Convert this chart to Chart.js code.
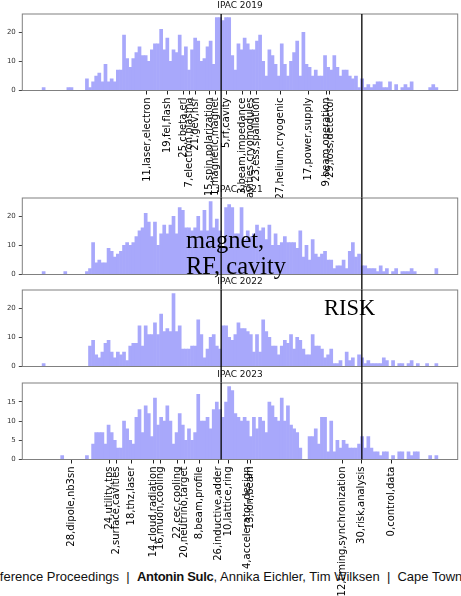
<!DOCTYPE html>
<html>
<head>
<meta charset="utf-8">
<script src="https://cdn.jsdelivr.net/npm/chart.js@4.4.1/dist/chart.umd.min.js"></script>
<style>
  body { margin: 0; background: #fff; width: 461px; height: 596px; overflow: hidden; position: relative; }
  canvas { position: absolute; left: 0; }
  .note { position: absolute; font-family: 'Liberation Serif', 'Times New Roman', serif; color: #000; white-space: pre; }
  #footer { position: absolute; top: 570px; left: -24px; font-family: 'Liberation Sans', Arial, sans-serif; font-size: 13px; line-height: 14px; color: #111; white-space: pre; }
  #footer b { letter-spacing: -0.3px; }
</style>
</head>
<body>
<div id="footer">Conference Proceedings  |  <b>Antonin Sulc</b>, Annika Eichler, Tim Wilksen  |  Cape Town</div>
<canvas id="c2019" width="461" height="198" style="top:0px"></canvas>
<canvas id="c2021" width="461" height="106" style="top:184px"></canvas>
<canvas id="c2022" width="461" height="107" style="top:276px"></canvas>
<canvas id="c2023" width="461" height="227" style="top:369px"></canvas>
<div class="note" style="left:186px; top:227px; font-size:24.5px; line-height:26px;">magnet,
RF, cavity</div>
<div class="note" style="left:324px; top:297px; font-size:22.5px; line-height:22.5px;">RISK</div>
<script>
// paper counts per bin (128 bins), one array per conference
const counts2019 = [
  1,0,0,0,0,0,0,0,1,1,0,0,0,0,
  4,1,3,5,6,3,9,3,4,3,
  7,7,19,11,8,11,13,15,12,12,
  10,14,16,16,21,14,18,10,14,13,
  19,12,15,7,14,18,17,10,11,15,
  17,9,25,25,24,25,25,12,7,16,
  14,18,16,14,14,17,19,10,5,14,
  12,9,5,16,9,5,10,13,17,5,
  20,9,8,5,7,5,5,12,8,7,
  12,8,5,7,7,5,4,5,1,4,
  1,2,1,2,3,3,1,1,3,0,
  2,0,1,2,1,3,0,0,0,0,
  0,1,2,1
];
const counts2021 = [
  1,0,0,0,0,0,0,1,0,0,0,0,0,0,
  1,2,11,4,5,4,4,9,8,6,
  7,8,10,11,10,11,13,15,16,21,
  18,13,18,10,14,17,14,17,20,14,
  23,22,16,16,15,16,20,15,22,15,
  25,16,19,15,9,23,24,23,14,14,
  23,12,15,13,14,17,15,16,12,17,
  10,14,10,11,13,11,11,11,9,15,
  6,10,5,12,7,6,7,8,5,5,
  2,3,3,5,2,8,11,6,7,3,
  3,2,2,2,1,3,1,2,0,1,
  2,0,1,1,1,2,1,0,0,0,
  0,0,0,2
];
const counts2022 = [
  1,0,0,0,0,0,0,0,0,0,0,0,0,0,0,
  7,9,4,3,5,8,9,5,3,5,
  4,5,2,7,8,8,14,7,14,11,
  11,15,11,18,12,13,12,25,12,14,
  6,6,6,7,7,16,11,3,6,10,
  11,7,6,14,14,10,9,11,15,13,
  13,12,11,5,11,5,16,12,10,7,
  7,4,7,9,8,11,6,10,9,6,
  4,4,11,7,7,6,3,4,6,1,
  1,2,0,5,2,3,0,4,3,1,
  2,1,1,1,1,3,2,0,2,0,
  1,1,0,1,2,0,1,0,0,1,
  0,0,1
];
const counts2023 = [
  0,0,0,0,0,0,1,0,0,0,0,0,0,0,1,0,
  4,7,7,7,4,9,7,5,3,3,
  10,8,5,4,11,13,7,14,12,6,
  16,9,11,10,14,10,4,7,12,9,
  5,8,5,7,17,10,10,11,8,13,
  15,13,11,15,19,18,12,11,10,11,
  10,6,11,8,11,10,7,15,14,11,
  10,16,10,14,9,8,7,3,0,0,
  6,6,8,4,11,11,2,10,2,5,
  3,5,4,3,3,3,4,6,3,6,
  3,2,2,1,2,2,0,1,0,2,
  2,0,2,1,2,2,0,0,0,1,
  0,1
];

// topic labels under the top panel and under the bottom panel
const topTickPos = [33.9, 40.6, 45.6, 47.6, 49.7, 54.0, 56.0, 59.5, 64.7, 67.3, 69.2, 77.0, 86.2, 92.1, 93.1];
const topTickLabels = ['11,laser,electron', '19,fel,flash', '25,cbeta,erl', '7,electron,plasma', '21,gev,hsr',
  '15,spin,polarization', '1,magnetic,magnet', '5,rf,cavity', '3,beam,impedance', '6,cavities,cryomodules',
  '23,ess,spallation', '27,helium,cryogenic', '17,power,supply', '9,beam,operation', '29,loss,detector'];
const bottomTickPos = [9.4, 21.7, 24.1, 29.0, 36.0, 38.3, 43.8, 46.1, 50.9, 57.0, 60.3, 66.3, 67.3, 97.0, 103.4, 113.1];
const bottomTickLabels = ['28,dipole,nb3sn', '24,utility,tps', '2,surface,cavities', '18,thz,laser', '14,cloud,radiation',
  '16,muon,cooling', '22,cec,cooling', '20,neutrino,target', '8,beam,profile', '26,inductive,adder', '10,lattice,ring',
  '4,accelerator,design', '13,ion,beam', '12,timing,synchronization', '30,risk,analysis', '0,control,data'];

// vertical marker lines (magnet/RF cavity, risk)
const markers = [57.9, 103.4];

const xMin = -6.4, xMax = 134.4;
const barColor = '#a8a8fb';

Chart.defaults.font.family = 'DejaVu Sans';

const framePlugin = {
  id: 'frame',
  afterDraw(chart, args, opts) {
    const ctx = chart.ctx;
    const a = chart.chartArea;
    const x = chart.scales.x;
    ctx.save();
    ctx.strokeStyle = '#808080';
    ctx.lineWidth = 1;
    ctx.strokeRect(a.left, a.top, a.right - a.left, a.bottom - a.top);
    ctx.strokeStyle = '#000';
    ctx.lineWidth = 1.3;
    const yEnd = opts.toBottom ? chart.height : a.bottom;
    markers.forEach(v => {
      const px = x.getPixelForValue(v);
      ctx.beginPath();
      ctx.moveTo(px, a.top);
      ctx.lineTo(px, yEnd);
      ctx.stroke();
    });
    ctx.restore();
  }
};

function makeChart(id, title, counts, yMax, yStep, opt) {
  const xAxis = {
    type: 'linear', min: xMin, max: xMax, offset: false,
    display: !!opt.tickPos,
    border: { display: false },
    grid: { drawOnChartArea: false, drawTicks: true, tickLength: 4, color: '#222', offset: false }
  };
  if (opt.tickPos) {
    xAxis.ticks = {
      autoSkip: false, minRotation: 90, maxRotation: 90, padding: 3,
      font: { size: 10 }, color: '#000',
      callback: (v, i) => opt.tickLabels[i]
    };
    xAxis.afterBuildTicks = s => { s.ticks = opt.tickPos.map(v => ({ value: v })); };
    xAxis.afterFit = s => { s.height = opt.axisH; };
  }
  return new Chart(document.getElementById(id), {
    type: 'bar',
    data: {
      datasets: [{
        data: counts.map((c, i) => ({ x: i + 0.5, y: c })),
        backgroundColor: barColor,
        borderWidth: 0,
        barPercentage: 1,
        categoryPercentage: 1,
        inflateAmount: 0.3
      }]
    },
    options: {
      responsive: false,
      animation: false,
      layout: { padding: { left: 0, right: 3.3, top: 0, bottom: opt.padBottom || 0 } },
      plugins: {
        legend: { display: false },
        tooltip: { enabled: false },
        title: {
          display: true, text: title, fullSize: false,
          font: { size: 9, weight: 'normal' }, color: '#111',
          padding: { top: 0.6, bottom: 2.6 }
        },
        frame: { toBottom: opt.toBottom }
      },
      scales: {
        x: xAxis,
        y: {
          min: 0, max: yMax,
          border: { display: false },
          grid: { drawOnChartArea: false, drawTicks: true, tickLength: 3.5, color: '#444' },
          ticks: { stepSize: yStep, includeBounds: false, padding: 3, font: { size: 7 }, color: '#333' },
          afterFit: s => { s.width = 22.3; }
        }
      }
    },
    plugins: [framePlugin]
  });
}

makeChart('c2019', 'IPAC 2019', counts2019, 26.25, 10,
  { tickPos: topTickPos, tickLabels: topTickLabels, axisH: 107.5, toBottom: true });
makeChart('c2021', 'IPAC 2021', counts2021, 26.25, 10, { padBottom: 15.5, toBottom: true });
makeChart('c2022', 'IPAC 2022', counts2022, 26.25, 10, { padBottom: 16.5, toBottom: true });
makeChart('c2023', 'IPAC 2023', counts2023, 19.95, 5,
  { tickPos: bottomTickPos, tickLabels: bottomTickLabels, axisH: 136.5, toBottom: false });
</script>
</body>
</html>
